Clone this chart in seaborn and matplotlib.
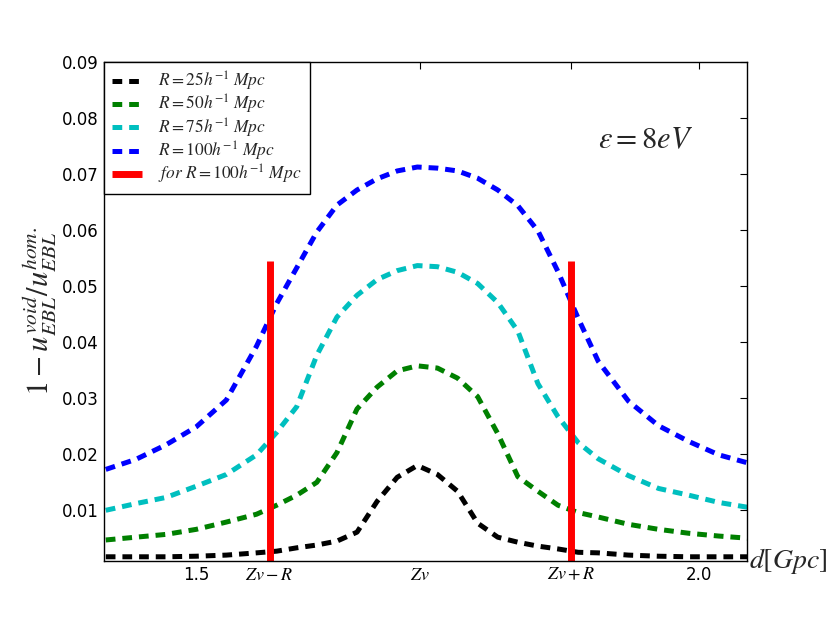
import numpy as np
import matplotlib
matplotlib.use('Agg')
import matplotlib.pyplot as plt
import seaborn as sns

# distance grid [Gpc]
d = [1.41, 1.44, 1.47, 1.50, 1.53, 1.56, 1.58, 1.60, 1.62, 1.64, 1.66, 1.68, 1.70, 1.72,
     1.74, 1.76, 1.78, 1.80, 1.82, 1.84, 1.86, 1.88, 1.90, 1.93, 1.96, 1.99, 2.02, 2.05]

r25 = [0.0017, 0.0017, 0.0017, 0.0018, 0.0020, 0.0024, 0.0027, 0.0033, 0.0038, 0.0045, 0.0061,
       0.0116, 0.0159, 0.0180, 0.0164, 0.0134, 0.0077, 0.0052, 0.0043, 0.0036, 0.0031, 0.0025,
       0.0024, 0.0020, 0.0018, 0.0017, 0.0017, 0.0017]
r50 = [0.0047, 0.0052, 0.0057, 0.0066, 0.0079, 0.0093, 0.0109, 0.0127, 0.0150, 0.0203, 0.0281,
       0.0320, 0.0349, 0.0358, 0.0354, 0.0336, 0.0303, 0.0237, 0.0160, 0.0134, 0.0109, 0.0096,
       0.0088, 0.0075, 0.0066, 0.0059, 0.0054, 0.0050]
r75 = [0.0100, 0.0112, 0.0123, 0.0143, 0.0164, 0.0199, 0.0239, 0.0285, 0.0377, 0.0445, 0.0484,
       0.0512, 0.0528, 0.0537, 0.0535, 0.0525, 0.0505, 0.0471, 0.0420, 0.0326, 0.0267, 0.0221,
       0.0192, 0.0162, 0.0139, 0.0127, 0.0114, 0.0105]
r100 = [0.0173, 0.0191, 0.0217, 0.0249, 0.0297, 0.0393, 0.0469, 0.0533, 0.0597, 0.0645, 0.0672,
        0.0692, 0.0706, 0.0713, 0.0711, 0.0706, 0.0693, 0.0672, 0.0644, 0.0599, 0.0526, 0.0443,
        0.0366, 0.0295, 0.0251, 0.0223, 0.0199, 0.0184]

zv = 1.723
R = 0.150
void_edges = [zv - R, zv + R]
edge_top = 0.0545

labels = [r'$R=25h^{-1}\ Mpc$', r'$R=50h^{-1}\ Mpc$',
          r'$R=75h^{-1}\ Mpc$', r'$R=100h^{-1}\ Mpc$']
colors = ['k', (0, 0.5, 0), (0, 0.75, 0.75), 'b']

sns.set_style('white')
plt.rcParams['mathtext.fontset'] = 'stix'
plt.rcParams['lines.scale_dashes'] = False
plt.rcParams['lines.dashed_pattern'] = [7, 5]

fig = plt.figure(figsize=(8.3, 6.23), dpi=100)
ax = fig.add_axes([0.125, 0.1, 0.775, 0.8])

for vals, col, lab in zip([r25, r50, r75, r100], colors, labels):
    sns.lineplot(x=d, y=vals, color=col, lw=3.6, linestyle='--', label=lab, ax=ax)

ax.vlines(void_edges, 0.0, edge_top, color='red', lw=5, label=r'$for\ R=100h^{-1}\ Mpc$')

ax.set_xlim(1.408, 2.048)
ax.set_ylim(0.001, 0.09)
ax.set_xticks([1.5, zv - R, zv, zv + R, 2.0])
ax.set_xticklabels(['1.5', r'$Zv-R$', r'$Zv$', r'$Zv+R$', '2.0'])
ax.set_yticks([0.01, 0.02, 0.03, 0.04, 0.05, 0.06, 0.07, 0.08, 0.09])
ax.tick_params(direction='in', top=True, right=True, length=5, width=0.8, labelsize=12,
               colors='black')
for t in ax.get_xticklabels()[1:4]:
    t.set_fontsize(13)
for s in ax.spines.values():
    s.set_color('black')
    s.set_linewidth(1.0)

ax.set_ylabel(r'$1-u^{void}_{EBL}/u^{hom.}_{EBL}$', fontsize=22, labelpad=2)
ax.text(1.003, 0.0, r'$d[Gpc]$', transform=ax.transAxes, fontsize=20, ha='left', va='center')
ax.text(0.769, 0.845, r'$\epsilon=8eV$', transform=ax.transAxes, fontsize=22, ha='left', va='center')

leg = ax.legend(loc='upper left', borderaxespad=0.0, fontsize=12.5, fancybox=False,
                framealpha=1, edgecolor='black', labelspacing=0.0, handlelength=1.75,
                handletextpad=0.95, borderpad=0.45)
leg.get_frame().set_linewidth(1.0)

fig.savefig('out.png', dpi=100)
